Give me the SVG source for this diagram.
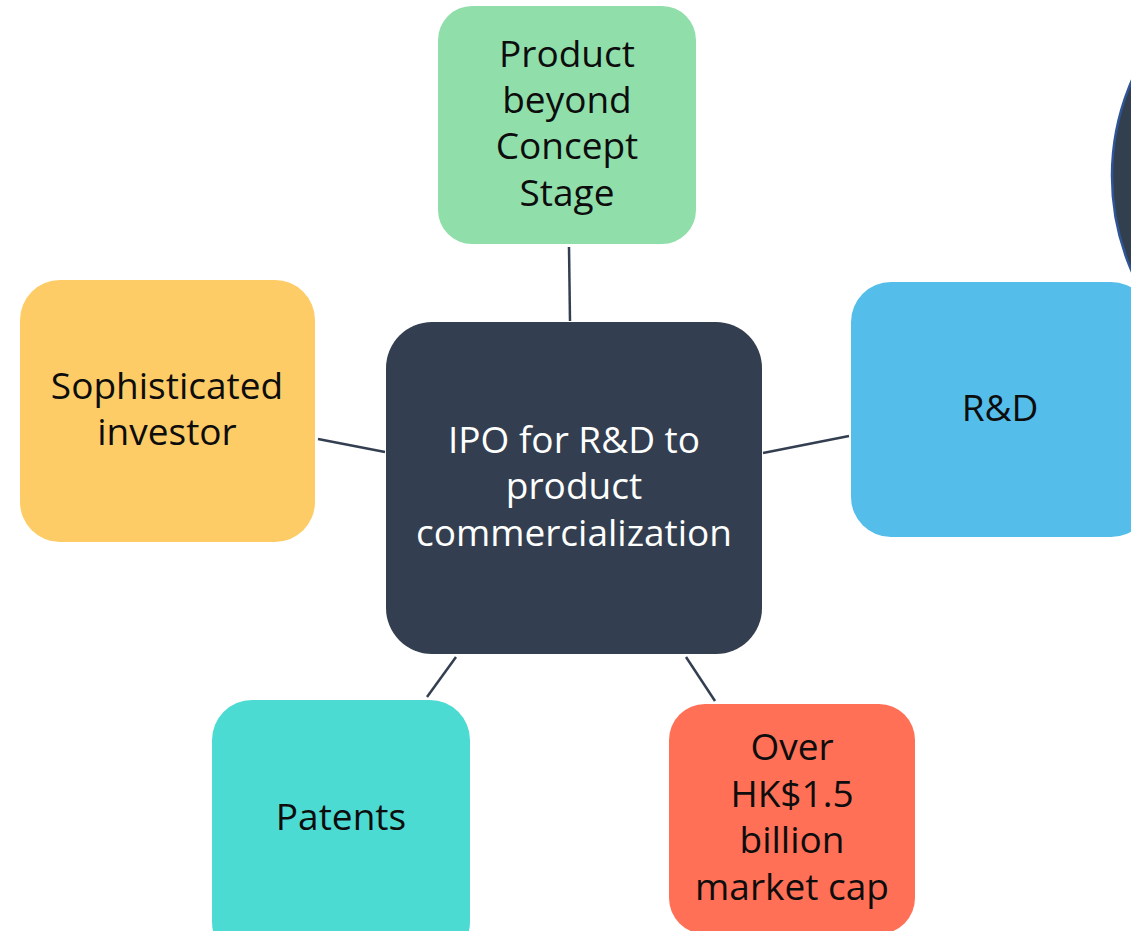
<svg xmlns="http://www.w3.org/2000/svg" width="1131" height="931" viewBox="0 0 1131 931">
<style>
.t{font-family:"Open Sans","Liberation Sans",sans-serif;font-size:37px;text-anchor:middle;fill:#0d0d0d}
.w{fill:#ffffff}
.c{stroke:#333f50;stroke-width:2.5;fill:none}
</style>
<rect width="1131" height="931" fill="#ffffff"/>
<circle id="circle" cx="1352" cy="176" r="240" fill="#323f4f" stroke="#2f5597" stroke-width="2.5"/>
<g id="connectors">
<line class="c" x1="569" y1="247" x2="570" y2="321"/>
<line class="c" x1="318" y1="439" x2="385" y2="452"/>
<line class="c" x1="763" y1="453" x2="849" y2="436"/>
<line class="c" x1="456" y1="657" x2="427" y2="697"/>
<line class="c" x1="686" y1="657" x2="715" y2="701"/>
</g>
<g id="center">
<rect x="386" y="322" width="376" height="332" rx="46" fill="#333f50"/>
<text class="t w" x="574" y="453">IPO for R&amp;D to</text>
<text class="t w" x="574" y="499">product</text>
<text class="t w" x="574" y="546">commercialization</text>
</g>
<g id="product">
<rect x="438" y="6" width="258" height="238" rx="34" fill="#90dfaa"/>
<text class="t" x="567" y="67">Product</text>
<text class="t" x="567" y="113">beyond</text>
<text class="t" x="567" y="159">Concept</text>
<text class="t" x="567" y="206">Stage</text>
</g>
<g id="investor">
<rect x="20" y="280" width="295" height="262" rx="40" fill="#fecc66"/>
<text class="t" x="167" y="399">Sophisticated</text>
<text class="t" x="167" y="445">investor</text>
</g>
<g id="rd">
<rect x="851" y="282" width="300" height="255" rx="40" fill="#54bdea"/>
<text class="t" x="1000" y="421">R&amp;D</text>
</g>
<g id="patents">
<rect x="212" y="700" width="258" height="262" rx="40" fill="#4cdbd2"/>
<text class="t" x="341" y="830">Patents</text>
</g>
<g id="market">
<rect x="669" y="704" width="246" height="230" rx="36" fill="#ff7057"/>
<text class="t" x="792" y="760">Over</text>
<text class="t" x="792" y="807">HK$1.5</text>
<text class="t" x="792" y="853">billion</text>
<text class="t" x="792" y="900">market cap</text>
</g>
</svg>
